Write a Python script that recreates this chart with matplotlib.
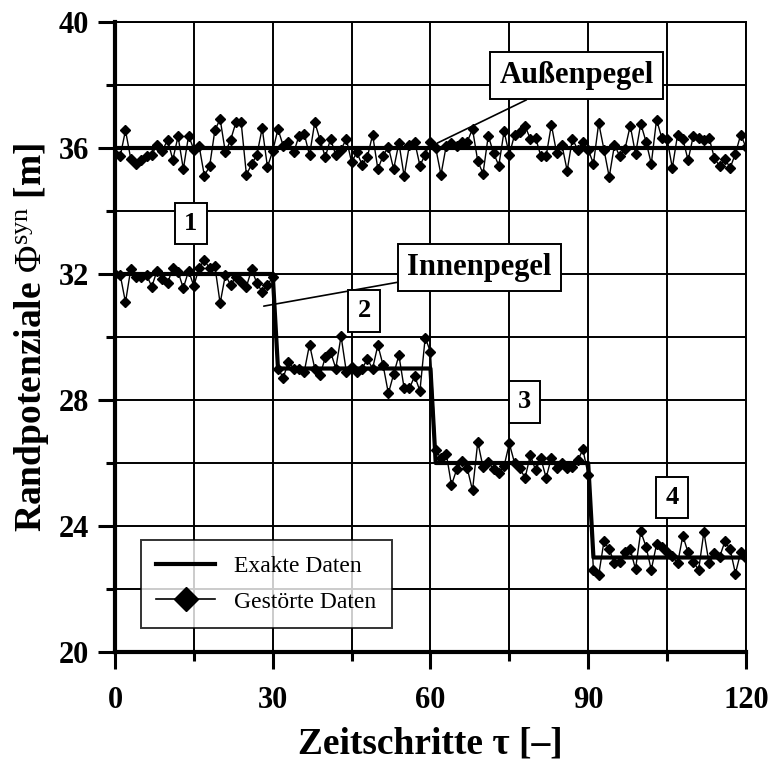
import numpy as np
import matplotlib
matplotlib.use("Agg")
import matplotlib.pyplot as plt
from matplotlib.lines import Line2D

plt.rcParams['font.family'] = ['Liberation Serif', 'DejaVu Serif']
plt.rcParams['mathtext.fontset'] = 'custom'
plt.rcParams['mathtext.rm'] = 'Liberation Serif'
plt.rcParams['mathtext.it'] = 'Liberation Serif:italic'
plt.rcParams['mathtext.bf'] = 'Liberation Serif:bold'

tau = np.arange(0, 121)

# exact data
exact_outer = [36.0] * 121
exact_inner = [32.0] * 31 + [29.0] * 30 + [26.0] * 30 + [23.0] * 30

# noisy outer level (tau 0..60, 61..120)
outer_a = [35.8, 35.74, 36.56, 35.66, 35.49, 35.63, 35.74, 35.79, 36.1, 35.9,
           36.26, 35.63, 36.37, 35.33, 36.39, 35.95, 36.07, 35.12, 35.42, 36.56,
           36.92, 35.86, 36.26, 36.81, 36.81, 35.15, 35.49, 35.79, 36.63, 35.4,
           35.9, 36.6, 36.07, 36.2, 35.86, 36.39, 36.45, 35.77, 36.82, 36.26,
           35.71, 36.29, 35.77, 35.95, 36.29, 35.55, 35.86, 35.47, 35.71, 36.42,
           35.33, 35.76, 36.03, 35.33, 36.16, 35.1, 36.1, 36.2, 35.44, 35.79, 36.2]
outer_b = [36.0, 35.15, 36.07, 36.16, 36.07, 36.2, 36.2, 36.6, 35.58, 35.19,
           36.39, 35.84, 35.44, 36.53, 35.79, 36.42, 36.5, 36.69, 36.29, 36.32,
           35.74, 35.74, 36.74, 35.84, 36.1, 35.28, 36.29, 35.95, 36.2, 35.95,
           35.5, 36.79, 35.95, 35.08, 36.1, 35.74, 35.97, 36.71, 35.81, 36.77,
           36.2, 35.5, 36.9, 36.32, 36.29, 35.37, 36.42, 36.29, 35.61, 36.39,
           36.32, 36.26, 36.32, 35.68, 35.42, 35.65, 35.37, 35.82, 36.42, 36.03]

# noisy inner level, segments 1..4
inner_1 = [32.0, 31.97, 31.1, 32.15, 31.9, 31.9, 31.97, 31.6, 32.1, 31.83,
           31.7, 32.2, 32.07, 31.55, 32.1, 31.62, 32.2, 32.44, 32.18, 32.25,
           31.07, 31.97, 31.65, 31.9, 31.76, 31.6, 32.15, 31.7, 31.44, 31.65, 31.9]
inner_2 = [29.0, 28.71, 29.21, 29.0, 28.97, 28.9, 29.76, 29.0, 28.79, 29.35,
           29.53, 29.0, 30.03, 28.9, 29.05, 28.9, 29.0, 29.29, 29.0, 29.74,
           29.1, 28.21, 28.82, 29.42, 28.37, 28.37, 28.76, 28.29, 29.98, 29.53]
inner_3 = [26.4, 26.16, 26.3, 25.3, 25.8, 26.06, 25.83, 25.13, 26.67, 25.87,
           26.04, 25.8, 25.69, 25.9, 26.62, 26.0, 25.83, 25.53, 26.25, 25.77,
           26.15, 25.53, 26.17, 25.83, 26.0, 25.83, 25.87, 26.08, 26.43, 25.62]
inner_4 = [22.6, 22.45, 23.51, 23.26, 22.81, 22.87, 23.19, 23.26, 22.63, 23.83,
           23.34, 22.61, 23.42, 23.34, 23.19, 23.05, 22.81, 23.69, 23.16, 22.87,
           22.6, 23.81, 22.81, 23.13, 23.02, 23.51, 23.26, 22.49, 23.16, 22.98]

outer_noisy = outer_a + outer_b
inner_noisy = inner_1 + inner_2 + inner_3 + inner_4

fig = plt.figure(figsize=(7.69, 7.74), dpi=100)
ax = fig.add_axes([0.1495, 0.1576, 0.8205, 0.814])

# grid
ax.set_xlim(0, 120)
ax.set_ylim(20, 40)
ax.set_xticks([0, 30, 60, 90, 120])
ax.set_xticks([15, 45, 75, 105], minor=True)
ax.set_yticks([20, 24, 28, 32, 36, 40])
ax.set_yticks([22, 26, 30, 34, 38], minor=True)
ax.grid(True, which='both', color='black', lw=1.4, zorder=0)
ax.set_axisbelow(True)

# noisy series
mk = dict(marker='D', ms=5.0, mfc='black', mec='black', color='black', lw=1.0, zorder=3)
ax.plot(tau, outer_noisy, **mk)
ax.plot(tau, inner_noisy, **mk)
# exact series
ax.plot(tau, exact_outer, color='black', lw=3.0, zorder=4)
ax.plot(tau, exact_inner, color='black', lw=3.0, zorder=4)

# spines
for s in ['left', 'bottom']:
    ax.spines[s].set_linewidth(3.0)
for s in ['top', 'right']:
    ax.spines[s].set_linewidth(1.4)

ax.tick_params(which='major', direction='out', width=2.2, length=12.5, labelsize=22)
ax.tick_params(which='minor', direction='out', width=2.2, length=6.5)
ax.tick_params(axis='x', which='major', pad=12)
ax.tick_params(axis='y', which='major', pad=6)
for lab in ax.get_xticklabels() + ax.get_yticklabels():
    lab.set_fontweight('bold')

ax.set_xlabel('Zeitschritte τ [–]', fontsize=27, fontweight='bold', labelpad=8)
ax.set_ylabel(r'Randpotenziale $\mathrm{\Phi}^{\mathrm{syn}}$ [m]', fontsize=27,
              fontweight='bold', labelpad=6)

bbox = dict(boxstyle='square,pad=0.3', fc='white', ec='black', lw=1.4)
ax.annotate('Außenpegel', xy=(60, 36.05), xytext=(87.8, 38.3), fontsize=22,
            fontweight='bold', ha='center', va='center', bbox=bbox,
            arrowprops=dict(arrowstyle='-', color='black', lw=1.2,
                            shrinkA=0, shrinkB=0), zorder=6)
ax.annotate('Innenpegel', xy=(28.3, 30.98), xytext=(69.3, 32.2), fontsize=22,
            fontweight='bold', ha='center', va='center', bbox=bbox,
            arrowprops=dict(arrowstyle='-', color='black', lw=1.2,
                            shrinkA=0, shrinkB=0), zorder=6)

nbox = dict(boxstyle='square,pad=0.35', fc='white', ec='black', lw=1.4)
for txt, x, y in [('1', 14.4, 33.6), ('2', 47.4, 30.83), ('3', 77.9, 27.94), ('4', 106.0, 24.9)]:
    ax.text(x, y, txt, fontsize=19, fontweight='bold', ha='center', va='center',
            bbox=nbox, zorder=6)

handles = [Line2D([], [], color='black', lw=3.0),
           Line2D([], [], color='black', lw=1.2, marker='D', ms=12)]
leg = ax.legend(handles, ['Exakte Daten', 'Gestörte Daten'], loc='lower left',
                bbox_to_anchor=(0.041, 0.038), borderaxespad=0, fontsize=17,
                frameon=True, fancybox=False, handlelength=2.5, handletextpad=0.8,
                borderpad=0.65, labelspacing=0.6)
leg.get_frame().set_edgecolor('black')
leg.get_frame().set_linewidth(1.4)
leg.set_zorder(7)

fig.savefig('out.png', dpi=100)
